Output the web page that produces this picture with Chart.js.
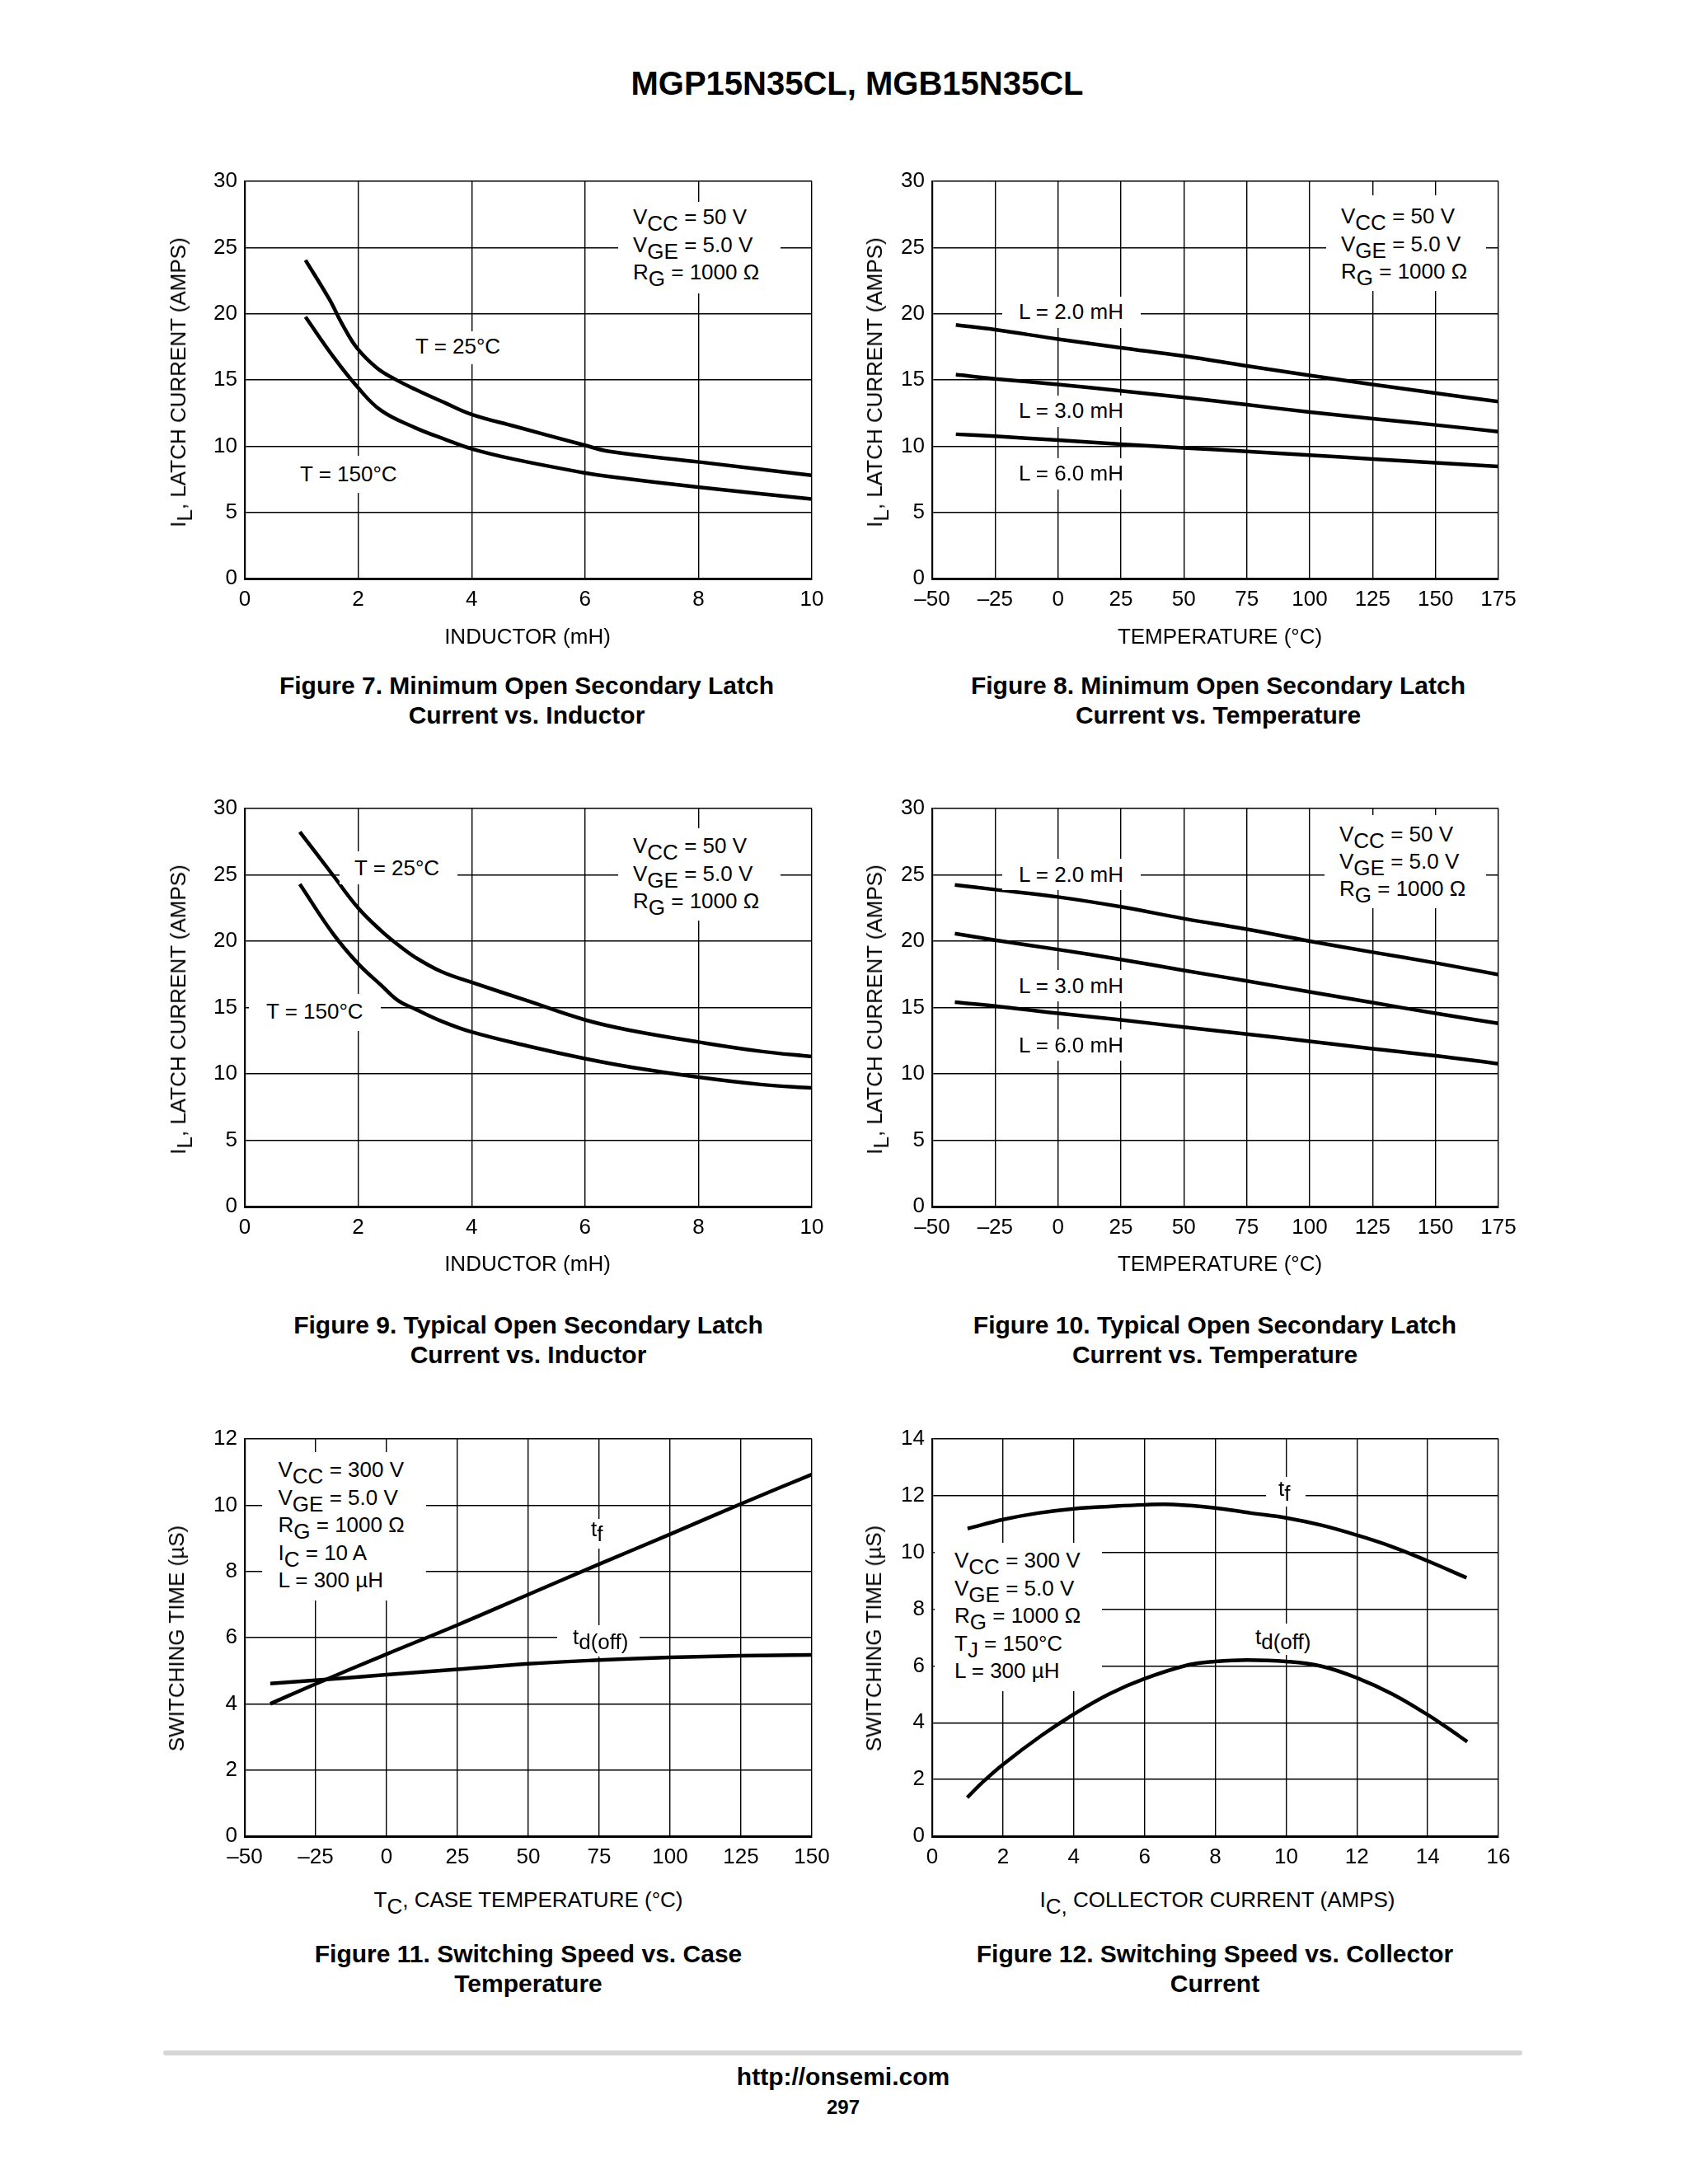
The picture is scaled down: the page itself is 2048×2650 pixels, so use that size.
<!DOCTYPE html>
<html><head><meta charset="utf-8">
<script src="https://cdn.jsdelivr.net/npm/chart.js@4.4.1/dist/chart.umd.min.js"></script>
<style>
html,body{margin:0;padding:0;background:#fff;}
#page{position:relative;width:2048px;height:2650px;background:#fff;overflow:hidden;font-family:"Liberation Sans",Arial,Helvetica,sans-serif;color:#000;}
canvas{position:absolute;z-index:1;}
.rect{position:absolute;background:#fff;z-index:4;}
.txt{position:absolute;white-space:nowrap;font-size:26px;z-index:5;}
.sb{position:relative;top:8px;}
.sbs{position:relative;top:6px;}
.cap{position:absolute;font-weight:bold;font-size:30px;line-height:36px;text-align:center;white-space:nowrap;transform:translateX(-50%);z-index:5;}
</style></head><body><div id="page"></div>
<script>
// ---------------- DATA ----------------
// Figure 7: minimum latch current vs inductor
const fig7_x_25 = [1.07, 1.49, 1.72, 1.98, 2.33, 2.63, 3.0, 3.54, 4.0, 4.76, 5.97, 6.43, 8.02, 10.0];
const fig7_y_25 = [24.05, 21.1, 19.2, 17.4, 15.9, 15.1, 14.3, 13.25, 12.4, 11.5, 10.1, 9.6, 8.8, 7.8];
const fig7_x_150 = [1.07, 1.57, 1.98, 2.4, 3.0, 3.54, 4.0, 4.76, 5.97, 6.43, 8.02, 10.0];
const fig7_y_150 = [19.76, 16.7, 14.5, 12.7, 11.4, 10.5, 9.8, 9.0, 8.0, 7.7, 6.9, 6.0];
// Figure 8: minimum latch current vs temperature
const fig8_x = [-40.6, -25, 0, 25, 50, 75, 100, 125, 150, 175];
const fig8_L2 = [19.15, 18.8, 18.08, 17.43, 16.8, 16.06, 15.34, 14.66, 14.0, 13.36];
const fig8_L3 = [15.4, 15.08, 14.66, 14.17, 13.68, 13.13, 12.57, 12.08, 11.6, 11.1];
const fig8_L6 = [10.9, 10.75, 10.45, 10.15, 9.87, 9.6, 9.32, 9.03, 8.75, 8.47];
// Figure 9: typical latch current vs inductor
const fig9_x = [0.97, 1.55, 2.0, 2.4, 2.71, 3.0, 3.47, 4.0, 4.99, 6.0, 6.82, 8.0, 9.1, 10.0];
const fig9_y_25 = [28.24, 25.0, 22.5, 20.8, 19.7, 18.8, 17.7, 16.9, 15.5, 14.07, 13.26, 12.4, 11.7, 11.3];
const fig9_y_150 = [24.3, 20.6, 18.3, 16.7, 15.5, 14.9, 13.97, 13.16, 12.1, 11.15, 10.5, 9.75, 9.2, 8.94];
// Figure 10: typical latch current vs temperature
const fig10_x = [-41, -25, 0, 25, 50, 75, 100, 125, 150, 175];
const fig10_L2 = [24.24, 23.89, 23.33, 22.59, 21.7, 20.9, 20.0, 19.17, 18.36, 17.48];
const fig10_L3 = [20.57, 20.08, 19.37, 18.62, 17.8, 17.0, 16.18, 15.37, 14.56, 13.81];
const fig10_L6 = [15.4, 15.11, 14.56, 14.07, 13.52, 13.0, 12.45, 11.9, 11.37, 10.76];
// Figure 11: switching speed vs case temperature
const fig11_x = [-41, -25, 0, 25, 50, 75, 100, 125, 150];
const fig11_tf = [4.0, 4.6, 5.5, 6.38, 7.3, 8.22, 9.12, 10.04, 10.93];
const fig11_td = [4.61, 4.71, 4.88, 5.04, 5.21, 5.32, 5.40, 5.45, 5.48];
// Figure 12: switching speed vs collector current
const fig12_x_tf = [1.0, 2, 3, 4, 5, 6, 6.8, 8, 9, 10, 11, 12, 13, 14, 15.1];
const fig12_tf = [10.84, 11.16, 11.39, 11.54, 11.62, 11.68, 11.69, 11.57, 11.39, 11.22, 10.96, 10.61, 10.2, 9.7, 9.11];
const fig12_x_td = [0.99, 1.42, 2.0, 3.09, 4.0, 5.0, 6.0, 7.25, 8.0, 8.9, 10.0, 11.0, 12.0, 13.0, 14.0, 14.52, 15.12];
const fig12_td = [1.36, 1.9, 2.53, 3.55, 4.3, 5.01, 5.55, 6.04, 6.16, 6.21, 6.16, 5.99, 5.58, 5.01, 4.28, 3.85, 3.33];

// ---------------- RENDER ----------------
const page = document.getElementById('page');
const F = '"Liberation Sans", Arial, Helvetica, sans-serif';
const fmt = v => (v < 0 ? '\u2013' + Math.abs(v) : String(v));
function pts(xs, ys) { return xs.map((x, i) => ({ x: x, y: ys[i] })); }

function makeChart(rect, xc, yc, series) {
  const PL = 120, PT = 30, PR = 45, PB = 60;
  const c = document.createElement('canvas');
  const w = rect.r - rect.l + PL + PR, h = rect.b - rect.t + PT + PB;
  c.width = w; c.height = h;
  c.style.left = (rect.l - PL) + 'px'; c.style.top = (rect.t - PT) + 'px';
  c.style.width = w + 'px'; c.style.height = h + 'px';
  page.appendChild(c);
  const tick = (pad) => ({ autoSkip: false, maxRotation: 0, padding: pad, color: '#000', font: { family: F, size: 26 }, callback: fmt });
  new Chart(c, {
    type: 'line',
    data: { datasets: series.map(s => ({ data: pts(s[0], s[1]), borderColor: '#000', borderWidth: 4.5, pointRadius: 0, fill: false, tension: 0.4, borderCapStyle: 'butt' })) },
    options: {
      responsive: false, animation: false,
      layout: { autoPadding: false, padding: { left: 0, top: PT, right: PR, bottom: 0 } },
      plugins: { legend: { display: false }, tooltip: { enabled: false } },
      scales: {
        x: { type: 'linear', min: xc[0], max: xc[1], ticks: Object.assign(tick(10), { stepSize: xc[2] }),
             grid: { color: '#000', lineWidth: 1.4, drawTicks: false }, border: { color: '#000', width: 3 },
             afterFit: s => { s.height = PB; } },
        y: { type: 'linear', min: yc[0], max: yc[1], ticks: Object.assign(tick(9), { stepSize: yc[2] }),
             grid: { color: '#000', lineWidth: 1.4, drawTicks: false }, border: { color: '#000', width: 2.2 },
             afterFit: s => { s.width = PL; } }
      }
    }
  });
}

function rect(l, t, w, h) {
  const d = document.createElement('div'); d.className = 'rect';
  d.style.left = l + 'px'; d.style.top = t + 'px'; d.style.width = w + 'px'; d.style.height = h + 'px';
  page.appendChild(d);
}
function text(x, yc, lines, lh) {
  lh = lh || 33;
  const d = document.createElement('div'); d.className = 'txt';
  d.style.left = x + 'px'; d.style.top = (yc - lh / 2) + 'px'; d.style.lineHeight = lh + 'px';
  d.innerHTML = lines.join('<br>');
  page.appendChild(d);
}
function ctext(cx, cy, html) {
  const d = document.createElement('div'); d.className = 'txt';
  d.style.left = cx + 'px'; d.style.top = (cy - 15) + 'px'; d.style.lineHeight = '30px';
  d.style.transform = 'translateX(-50%)';
  d.innerHTML = html;
  page.appendChild(d);
}
function ytitle(cx, cy, html) {
  const d = document.createElement('div'); d.className = 'txt';
  d.style.left = cx + 'px'; d.style.top = cy + 'px'; d.style.lineHeight = '30px';
  d.style.transform = 'translate(-50%,-50%) rotate(-90deg)';
  d.innerHTML = html;
  page.appendChild(d);
}
function caption(cx, cy, l1, l2) {
  const d = document.createElement('div'); d.className = 'cap';
  d.style.left = cx + 'px'; d.style.top = (cy - 18) + 'px';
  d.innerHTML = l1 + '<br>' + l2;
  page.appendChild(d);
}

const R1 = { l: 297, r: 985, t: 220, b: 702 }, R2 = { l: 1131, r: 1818, t: 220, b: 702 };
const R3 = { l: 297, r: 985, t: 981, b: 1464 }, R4 = { l: 1131, r: 1818, t: 981, b: 1464 };
const R5 = { l: 297, r: 985, t: 1746, b: 2228 }, R6 = { l: 1131, r: 1818, t: 1746, b: 2228 };

makeChart(R1, [0, 10, 2], [0, 30, 5], [[fig7_x_25, fig7_y_25], [fig7_x_150, fig7_y_150]]);
makeChart(R2, [-50, 175, 25], [0, 30, 5], [[fig8_x, fig8_L2], [fig8_x, fig8_L3], [fig8_x, fig8_L6]]);
makeChart(R3, [0, 10, 2], [0, 30, 5], [[fig9_x, fig9_y_25], [fig9_x, fig9_y_150]]);
makeChart(R4, [-50, 175, 25], [0, 30, 5], [[fig10_x, fig10_L2], [fig10_x, fig10_L3], [fig10_x, fig10_L6]]);
makeChart(R5, [-50, 150, 25], [0, 12, 2], [[fig11_x, fig11_tf], [fig11_x, fig11_td]]);
makeChart(R6, [0, 16, 2], [0, 14, 2], [[fig12_x_tf, fig12_tf], [fig12_x_td, fig12_td]]);

const S = t => '<span class="sb">' + t + '</span>';
const S2 = t => '<span class="sbs">' + t + '</span>';
const cond50 = ['V' + S('CC') + ' = 50 V', 'V' + S('GE') + ' = 5.0 V', 'R' + S('G') + ' = 1000 \u03A9'];

// Chart 1 annotations
rect(750, 245, 197, 111); text(768, 264, cond50, 33.5);
rect(496, 402, 120, 40); text(504, 420, ['T = 25\u00B0C']);
rect(356, 553, 135, 45); text(364, 575, ['T = 150\u00B0C']);
// Chart 2
rect(1609, 237, 194, 116); text(1627, 263, cond50, 33.5);
rect(1216, 360, 168, 38); text(1236, 378, ['L = 2.0 mH']);
rect(1216, 480, 168, 38); text(1236, 498.6, ['L = 3.0 mH']);
rect(1216, 556, 168, 38); text(1236, 574, ['L = 6.0 mH']);
// Chart 3
rect(750, 1005, 197, 112); text(768, 1027, cond50, 33.5);
rect(412, 1033, 143, 40); text(430, 1053, ['T = 25\u00B0C']);
rect(302, 1206, 160, 45); text(323, 1227, ['T = 150\u00B0C']);
// Chart 4
rect(1607, 989, 196, 113); text(1625, 1012, cond50, 33);
rect(1216, 1042, 168, 38); text(1236, 1061, ['L = 2.0 mH']);
rect(1216, 1177, 168, 38); text(1236, 1196, ['L = 3.0 mH']);
rect(1216, 1249, 168, 38); text(1236, 1268, ['L = 6.0 mH']);
// Chart 5
rect(318, 1762, 199, 180);
text(337.5, 1784, ['V' + S('CC') + ' = 300 V', 'V' + S('GE') + ' = 5.0 V', 'R' + S('G') + ' = 1000 \u03A9', 'I' + S('C') + ' = 10 A', 'L = 300 \u00B5H'], 33.5);
rect(712, 1843, 28, 36); text(717, 1855, ['t' + S2('f')]);
rect(676, 1972, 100, 38); text(695, 1986, ['t' + S2('d(off)')]);
// Chart 6
rect(1134, 1872, 203, 180);
text(1158, 1894, ['V' + S('CC') + ' = 300 V', 'V' + S('GE') + ' = 5.0 V', 'R' + S('G') + ' = 1000 \u03A9', 'T' + S('J') + ' = 150\u00B0C', 'L = 300 \u00B5H'], 33.4);
rect(1536, 1792, 48, 36); text(1551, 1806, ['t' + S2('f')]);
rect(1510, 1970, 96, 38); text(1523, 1986, ['t' + S2('d(off)')]);

// Axis titles
ctext(640, 772, 'INDUCTOR (mH)');
ctext(1480, 772, 'TEMPERATURE (\u00B0C)');
ctext(640, 1533, 'INDUCTOR (mH)');
ctext(1480, 1533, 'TEMPERATURE (\u00B0C)');
ctext(641, 2305, 'T' + S('C') + ', CASE TEMPERATURE (\u00B0C)');
ctext(1477, 2305, 'I' + S('C,') + ' COLLECTOR CURRENT (AMPS)');
ytitle(216, 464, 'I' + S('L') + ', LATCH CURRENT (AMPS)');
ytitle(1061, 464, 'I' + S('L') + ', LATCH CURRENT (AMPS)');
ytitle(216, 1225, 'I' + S('L') + ', LATCH CURRENT (AMPS)');
ytitle(1061, 1225, 'I' + S('L') + ', LATCH CURRENT (AMPS)');
ytitle(214, 1988, 'SWITCHING TIME (\u00B5S)');
ytitle(1060, 1988, 'SWITCHING TIME (\u00B5S)');

// Captions
caption(639, 832, 'Figure 7. Minimum Open Secondary Latch', 'Current vs. Inductor');
caption(1478, 832, 'Figure 8. Minimum Open Secondary Latch', 'Current vs. Temperature');
caption(641, 1608, 'Figure 9. Typical Open Secondary Latch', 'Current vs. Inductor');
caption(1474, 1608, 'Figure 10. Typical Open Secondary Latch', 'Current vs. Temperature');
caption(641, 2371, 'Figure 11. Switching Speed vs. Case', 'Temperature');
caption(1474, 2371, 'Figure 12. Switching Speed vs. Collector', 'Current');

// Page title and footer
(function () {
  const t = document.createElement('div');
  t.style.cssText = 'position:absolute;left:1040px;top:76px;transform:translateX(-50%);font-weight:bold;font-size:40px;line-height:50px;white-space:nowrap;';
  t.textContent = 'MGP15N35CL, MGB15N35CL';
  page.appendChild(t);
  const ln = document.createElement('div');
  ln.style.cssText = 'position:absolute;left:198px;top:2488px;width:1649px;height:6px;background:#d6d6d6;border-radius:3px;';
  page.appendChild(ln);
  const u = document.createElement('div');
  u.style.cssText = 'position:absolute;left:1023px;top:2502px;transform:translateX(-50%);font-weight:bold;font-size:30px;line-height:36px;white-space:nowrap;';
  u.textContent = 'http://onsemi.com';
  page.appendChild(u);
  const p = document.createElement('div');
  p.style.cssText = 'position:absolute;left:1023px;top:2542px;transform:translateX(-50%);font-weight:bold;font-size:24px;line-height:30px;white-space:nowrap;';
  p.textContent = '297';
  page.appendChild(p);
})();
</script></body></html>
